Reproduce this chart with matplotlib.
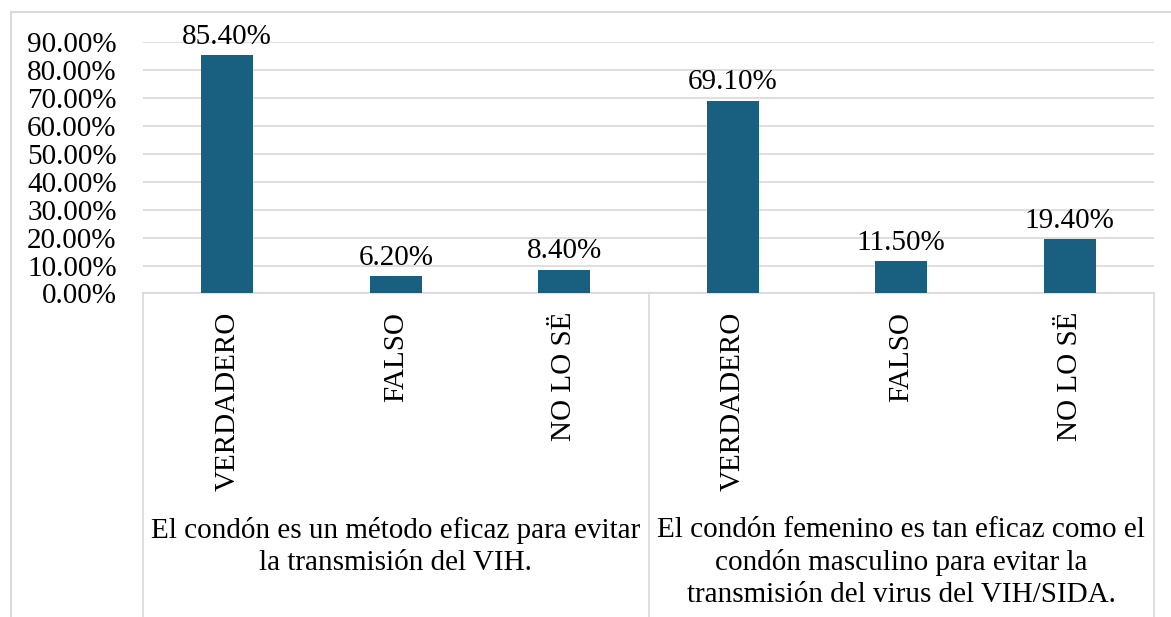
import matplotlib.pyplot as plt
from matplotlib import transforms
from matplotlib.ticker import FuncFormatter, MultipleLocator
import numpy as np

# data
answers = ["VERDADERO", "FALSO", "NO LO SË", "VERDADERO", "FALSO", "NO LO SË"]
values = [85.4, 6.2, 8.4, 69.1, 11.5, 19.4]
groups = ["El condón es un método eficaz para evitar\nla transmisión del VIH.",
          "El condón femenino es tan eficaz como el\ncondón masculino para evitar la\ntransmisión del virus del VIH/SIDA."]
group_size = 3

BAR = "#185f80"
GRID = "#d9d9d9"
W, H = 1171, 617

plt.rcParams['font.family'] = ['Liberation Serif', 'DejaVu Serif']
plt.rcParams['font.size'] = 21

fig = plt.figure(figsize=(W / 100, H / 100), dpi=100)
ax = fig.add_axes([143 / W, 1 - 293.5 / H, (1154 - 143) / W, (293.5 - 42.3) / H])

x = np.arange(len(values))
ax.bar(x, values, width=0.31, color=BAR, zorder=3)
for xi, v in zip(x, values):
    ax.annotate(f"{v:.2f}%", (xi, v), xytext=(0, 4), textcoords="offset points",
                ha="center", va="bottom", fontsize=21)

ax.set_xlim(-0.5, len(values) - 0.5)
ax.set_ylim(0, 90)
ax.yaxis.set_major_locator(MultipleLocator(10))
ax.yaxis.set_major_formatter(FuncFormatter(lambda v, p: f"{v:.2f}%"))
ax.grid(axis="y", color=GRID, lw=1.2, zorder=0)
for s in ["top", "right", "left"]:
    ax.spines[s].set_visible(False)
ax.spines["bottom"].set_color(GRID)
ax.spines["bottom"].set_linewidth(1.2)
ax.tick_params(axis="y", length=0, pad=19)
ax.set_xticks([])

# multi-level category axis
tr = transforms.blended_transform_factory(ax.transData, fig.transFigure)
for xi, lab in zip(x, answers):
    ax.text(xi, 1 - 312 / H, lab, rotation=90, ha="center", va="top",
            transform=tr, fontsize=21)
for gi, g in enumerate(groups):
    cx = gi * group_size + (group_size - 1) / 2
    ax.text(cx, 1 - 517 / H, g, ha="center", va="top", transform=tr,
            fontsize=21, linespacing=1.3)
for b in range(0, len(values) + 1, group_size):
    ax.plot([b - 0.5, b - 0.5], [1 - 293.5 / H, 0], color=GRID, lw=1.2,
            transform=tr, clip_on=False)

# chart area border
fig.add_artist(plt.Line2D([10.5 / W, 1], [1 - 12 / H] * 2, color=GRID, lw=1.5))
fig.add_artist(plt.Line2D([10.5 / W] * 2, [0, 1 - 12 / H], color=GRID, lw=1.5))

fig.savefig("out.png", dpi=100)
